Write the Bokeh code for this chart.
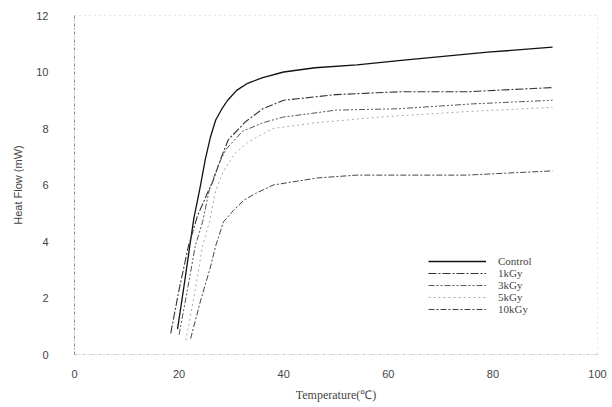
from bokeh.plotting import figure
from bokeh.models import Range1d, Legend, LegendItem, FixedTicker
from bokeh.embed import file_html
from bokeh.resources import INLINE

# Data
t_control = [19.7, 21.0, 22.8, 24.0, 25.0, 26.0, 27.0, 28.2, 29.3, 31.0, 33.1, 36.0, 40.0, 46.0, 54.0, 62.0, 73.0, 79.0, 91.4]
h_control = [0.9, 2.5, 4.8, 5.9, 6.9, 7.7, 8.3, 8.7, 9.0, 9.35, 9.6, 9.8, 10.0, 10.15, 10.25, 10.4, 10.6, 10.7, 10.88]

t_1k = [18.4, 20.0, 21.8, 23.5, 25.5, 26.4, 27.9, 29.4, 32.7, 36.0, 40.0, 50.0, 62.0, 75.0, 91.4]
h_1k = [0.75, 2.3, 3.85, 4.9, 5.75, 6.1, 6.9, 7.6, 8.24, 8.7, 9.0, 9.2, 9.3, 9.3, 9.45]

t_3k = [20.0, 21.5, 23.1, 24.5, 25.8, 27.5, 28.9, 32.1, 36.0, 39.8, 50.0, 62.0, 76.0, 91.4]
h_3k = [0.7, 2.2, 3.85, 4.7, 5.85, 6.7, 7.25, 7.9, 8.2, 8.4, 8.65, 8.7, 8.87, 9.0]

t_5k = [21.3, 23.0, 24.5, 25.8, 27.0, 28.5, 30.6, 33.0, 37.9, 46.0, 58.0, 75.0, 91.4]
h_5k = [0.5, 2.2, 3.85, 4.7, 5.8, 6.5, 7.1, 7.5, 8.0, 8.2, 8.4, 8.6, 8.75]

t_10k = [22.2, 24.1, 26.0, 27.0, 28.5, 30.4, 32.3, 34.6, 38.0, 46.5, 54.0, 62.3, 75.0, 91.4]
h_10k = [0.56, 1.9, 3.1, 3.85, 4.7, 5.1, 5.45, 5.7, 6.0, 6.25, 6.35, 6.35, 6.35, 6.5]

series_names = ["Control", "1kGy", "3kGy", "5kGy", "10kGy"]
x_ticks = [0, 20, 40, 60, 80, 100]
y_ticks = [0, 2, 4, 6, 8, 10, 12]

p = figure(width=608, height=404, output_backend="svg", toolbar_location=None,
           x_range=Range1d(0, 100), y_range=Range1d(0, 12),
           min_border_left=74, min_border_right=11, min_border_top=15, min_border_bottom=48)
p.background_fill_color = "white"
p.border_fill_color = "white"
p.grid.visible = False
p.outline_line_color = "#bbbbbb"
p.outline_line_dash = "1 4"
p.outline_line_alpha = 0.7

for ax in (p.xaxis[0], p.yaxis[0]):
    ax.axis_line_color = "#888888"
    ax.axis_line_dash = "3 2 1 2"
    ax.major_tick_line_color = None
    ax.minor_tick_line_color = None
    ax.major_label_text_font = "Liberation Sans"
    ax.major_label_text_font_size = "11px"
    ax.major_label_text_color = "#444444"
    ax.axis_label_text_font_style = "normal"
    ax.axis_label_text_color = "#444444"

p.xaxis.ticker = FixedTicker(ticks=x_ticks)
p.yaxis.ticker = FixedTicker(ticks=y_ticks)
p.xaxis.major_label_standoff = 9
p.yaxis.major_label_standoff = 20
p.xaxis.axis_line_color = "#cccccc"

p.yaxis.axis_label = "Heat Flow (mW)"
p.yaxis.axis_label_text_font = "Liberation Sans"
p.yaxis.axis_label_text_font_size = "11px"
p.yaxis.axis_label_standoff = 9

p.xaxis.axis_label = "Temperature(℃)"
p.xaxis.axis_label_text_font = "Liberation Serif"
p.xaxis.axis_label_text_font_size = "12px"
p.xaxis.axis_label_standoff = 7

r0 = p.line(t_control, h_control, line_color="#111111", line_width=1.3)
r1 = p.line(t_1k, h_1k, line_color="#333333", line_width=1.1, line_dash="8 2 2 2")
r2 = p.line(t_3k, h_3k, line_color="#555555", line_width=1.0, line_dash="6 2 2 2 2 2")
r3 = p.line(t_5k, h_5k, line_color="#aaaaaa", line_width=1.0, line_dash="2 3")
r4 = p.line(t_10k, h_10k, line_color="#444444", line_width=1.0, line_dash="6 2 2 2")

items = [LegendItem(label=n, renderers=[r]) for n, r in zip(series_names, [r0, r1, r2, r3, r4])]
legend = Legend(items=items, location=(354, 39), padding=0, margin=0, spacing=0,
                glyph_width=58, glyph_height=12, label_height=12, label_standoff=12,
                label_text_font="Liberation Serif", label_text_font_size="11px",
                label_text_color="#444444", border_line_color=None,
                background_fill_alpha=0)
p.add_layout(legend, "center")

open("out.html", "w").write(file_html(p, INLINE))
